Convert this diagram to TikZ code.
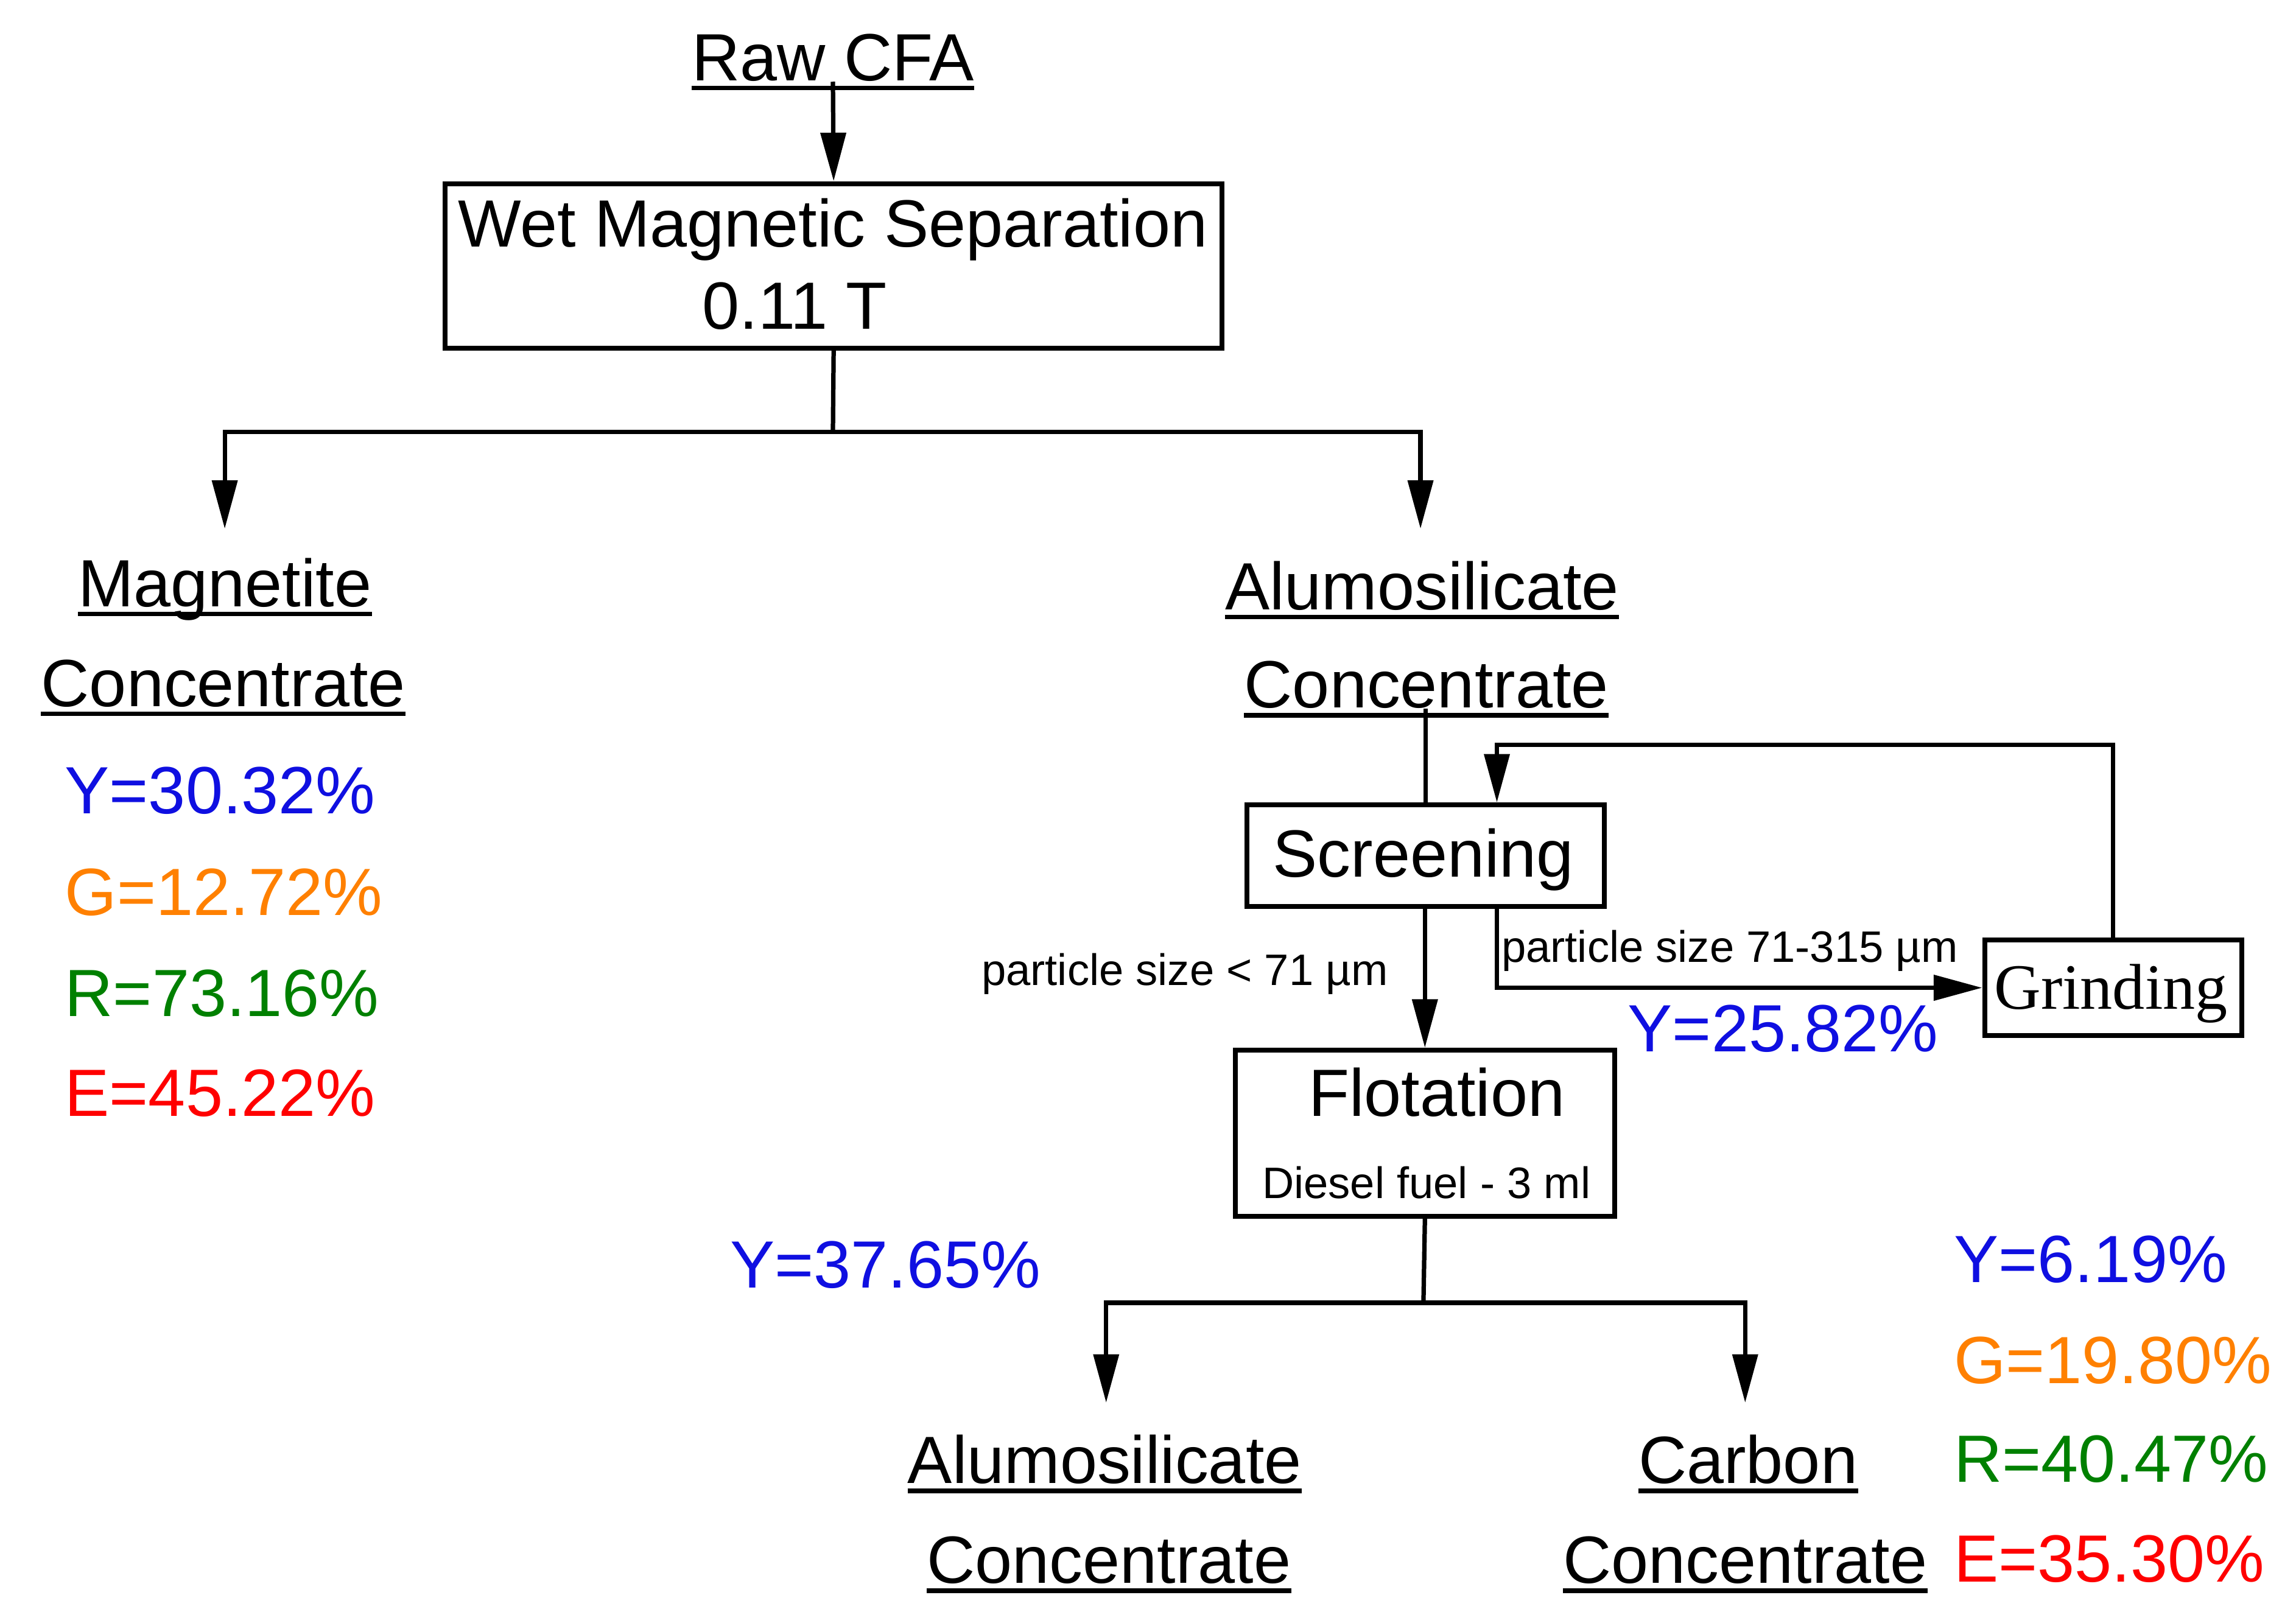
\documentclass[tikz,border=0pt]{standalone}
\usepackage{fontspec}
\setmainfont{Liberation Sans}
\newfontfamily\seriffont{Liberation Serif}
\usetikzlibrary{arrows.meta,calc}
\definecolor{cblue}{RGB}{15,15,225}
\definecolor{corange}{RGB}{255,128,0}
\definecolor{cgreen}{RGB}{0,128,0}
\definecolor{cred}{RGB}{255,0,0}
\begin{document}
\begin{tikzpicture}[x=1pt,y=-1pt,
  big/.style={font=\fontsize{45.5}{54}\selectfont, inner sep=0pt, anchor=base},
  bigl/.style={big, anchor=base west},
  small/.style={font=\fontsize{30}{36}\selectfont, inner sep=0pt, anchor=base},
  box/.style={draw, line width=3.3pt, inner sep=0pt},
  flow/.style={line width=3pt},
  arr/.style={flow, -{Triangle[length=33pt,width=17pt]}},
  ulline/.style={line width=3pt}]
\useasboundingbox (0,0) rectangle (1563,1105);

% ---- text nodes with underlines
\node[big] (raw) at (567,55) {Raw CFA};
\node[big] (mag1) at (153,413) {Magnetite};
\node[big] (mag2) at (152,481) {Concentrate};
\node[big] (alu1) at (968,415) {Alumosilicate};
\node[big] (alu2) at (971,482) {Concentrate};
\node[big] (balu1) at (752,1010) {Alumosilicate};
\node[big] (balu2) at (755,1078) {Concentrate};
\node[big] (carb1) at (1190,1010) {Carbon};
\node[big] (carb2) at (1188,1078) {Concentrate};
\foreach \n in {raw,mag1,mag2,alu1,alu2,balu1,balu2,carb1,carb2}{
  \draw[ulline] ($(\n.base west)+(0,5)$) -- ($(\n.base east)+(0,5)$);
}

% ---- boxes
\node[box, minimum width=529pt, minimum height=112pt] (wms) at (567.5,181) {};
\node[big] (wmst1) at (567,168) {Wet Magnetic Separation};
\node[big] (wmst2) at (541,224) {0.11 T};

\node[box, minimum width=243pt, minimum height=69pt] (scr) at (970.5,582.5) {};
\node[big] (scrt) at (969,597) {Screening};

\node[box, minimum width=175pt, minimum height=65pt] (grind) at (1438.5,672.5) {};
\node[font=\seriffont\fontsize{44}{52}\selectfont, inner sep=0pt, anchor=base] (grindt) at (1437,687) {Grinding};

\node[box, minimum width=258pt, minimum height=113pt] (flot) at (970,771.5) {};
\node[big] (flott) at (978,760) {Flotation};
\node[small] (dies) at (971,816) {Diesel fuel - 3 ml};

% ---- labels
\node[small, anchor=base west] (p2) at (1022,655) {particle size 71-315 µm};
\node[small, anchor=base east] (p1) at (945,671) {particle size < 71 µm};

\node[bigl, text=cblue] (y1) at (44,554) {Y=30.32\%};
\node[bigl, text=corange] (g1) at (44,623) {G=12.72\%};
\node[bigl, text=cgreen] (r1) at (44,692) {R=73.16\%};
\node[bigl, text=cred] (e1) at (44,760) {E=45.22\%};

\node[bigl, text=cblue] (y2) at (1108,716) {Y=25.82\%};
\node[bigl, text=cblue] (y3) at (497,877) {Y=37.65\%};

\node[bigl, text=cblue] (y4) at (1330,873) {Y=6.19\%};
\node[bigl, text=corange] (g4) at (1330,942) {G=19.80\%};
\node[bigl, text=cgreen] (r4) at (1330,1009) {R=40.47\%};
\node[bigl, text=cred] (e4) at (1330,1077) {E=35.30\%};

% ---- coordinates
\coordinate (b1) at (567,294);
\coordinate (magtip) at (153,360);
\coordinate (alutip) at (967,360);
\coordinate (fb) at (1019,507);
\coordinate (sg) at (1019,617);
\coordinate (b2) at (969,887);
\coordinate (balutip) at (753,955);
\coordinate (carbtip) at (1188,955);

% ---- connectors
\draw[arr] (raw.south) -- (wms.north);
\draw[flow] (wms.south) -- (b1);
\draw[arr] (b1) -| (magtip);
\draw[arr] (b1) -| (alutip);
\draw[flow] (alu2.south -| scr.north) -- (scr.north);
\draw[arr] (scr.south -| flot.north) -- (flot.north);
\draw[arr] (sg) |- (grind.west);
\draw[arr] (grind.north) |- (fb) -- (fb |- scr.north);
\draw[flow] (flot.south) -- (b2);
\draw[arr] (b2) -| (balutip);
\draw[arr] (b2) -| (carbtip);
\end{tikzpicture}
\end{document}
